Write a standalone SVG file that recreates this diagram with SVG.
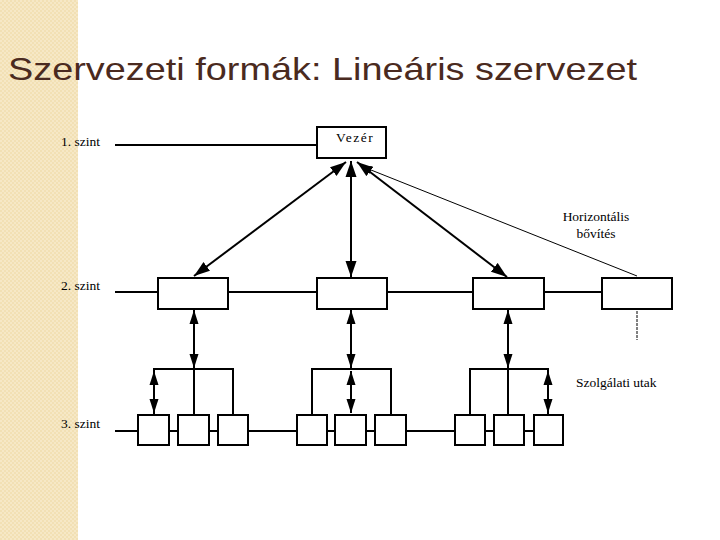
<svg xmlns="http://www.w3.org/2000/svg" width="720" height="540" viewBox="0 0 720 540">
<defs>
<pattern id="chk" width="4" height="4" patternUnits="userSpaceOnUse">
<rect width="4" height="4" fill="#f2e0b4"/>
<rect width="2" height="2" fill="#f6e8c6"/>
<rect x="2" y="2" width="2" height="2" fill="#f6e8c6"/>
</pattern>
<marker id="ah" markerUnits="userSpaceOnUse" markerWidth="17" markerHeight="12" refX="16" refY="5.5" orient="auto-start-reverse" viewBox="0 0 17 11">
<path d="M0,0 L16,5.5 L0,11 z" fill="#000"/>
</marker>
<marker id="av" markerUnits="userSpaceOnUse" markerWidth="15" markerHeight="10" refX="14" refY="4.5" orient="auto-start-reverse" viewBox="0 0 15 9">
<path d="M0,0 L14,4.5 L0,9 z" fill="#000"/>
</marker>
<marker id="at" markerUnits="userSpaceOnUse" markerWidth="12" markerHeight="10" refX="11" refY="4" orient="auto-start-reverse" viewBox="0 0 12 8">
<path d="M0,0 L11,4 L0,8 z" fill="#000"/>
</marker>
</defs>
<style>
.box{fill:#fff;stroke:#000;stroke-width:2}
.ln{stroke:#000;stroke-width:2;fill:none}
.thin{stroke:#000;stroke-width:1;fill:none}
.lbl{font-size:13.5px;fill:#000}
.title{font-size:32px;fill:#4a2a20}
</style>
<rect x="0" y="0" width="720" height="540" fill="#fff"/>
<rect x="0" y="0" width="78" height="540" fill="url(#chk)"/>
<text class="title" font-family="Liberation Sans, Arial, sans-serif" x="8" y="80" textLength="629" lengthAdjust="spacingAndGlyphs">Szervezeti formák: Lineáris szervezet</text>

<g id="levels" font-family="Liberation Serif, Times New Roman, serif">
<text class="lbl" x="61" y="146">1. szint</text>
<text class="lbl" x="61" y="290">2. szint</text>
<text class="lbl" x="61" y="428">3. szint</text>
</g>

<g id="connectors">
<line class="ln" x1="115" y1="145" x2="317" y2="145"/>
<line class="ln" x1="115" y1="292" x2="602" y2="292"/>
<line class="ln" x1="115" y1="431" x2="534" y2="431"/>
<line class="ln" x1="346" y1="162" x2="194" y2="276" marker-start="url(#ah)" marker-end="url(#ah)"/>
<line class="ln" x1="351" y1="161" x2="351" y2="277" marker-start="url(#ah)" marker-end="url(#ah)"/>
<line class="ln" x1="357" y1="162" x2="507" y2="277" marker-start="url(#ah)" marker-end="url(#ah)"/>
<line class="thin" x1="637" y1="276" x2="361" y2="166" marker-end="url(#at)"/>
<line class="thin" x1="637" y1="311" x2="637" y2="340" stroke-dasharray="3,1"/>
<line class="ln" x1="194" y1="310" x2="194" y2="368" marker-start="url(#av)" marker-end="url(#av)"/>
<line class="ln" x1="351" y1="310" x2="351" y2="368" marker-start="url(#av)" marker-end="url(#av)"/>
<line class="ln" x1="508" y1="310" x2="508" y2="368" marker-start="url(#av)" marker-end="url(#av)"/>
<path class="ln" d="M154,415 V369 H233 V415 M194,369 V415"/>
<path class="ln" d="M312,415 V369 H391 V415"/>
<path class="ln" d="M470,415 V369 H548 V415 M508,369 V415"/>
<line class="ln" x1="154" y1="371" x2="154" y2="413" marker-start="url(#av)" marker-end="url(#av)"/>
<line class="ln" x1="351" y1="371" x2="351" y2="413" marker-start="url(#av)" marker-end="url(#av)"/>
<line class="ln" x1="548" y1="371" x2="548" y2="413" marker-start="url(#av)" marker-end="url(#av)"/>
</g>

<g id="vezer">
<rect class="box" x="317" y="127" width="69" height="31"/>
<text class="lbl" font-family="Liberation Serif, Times New Roman, serif" x="336" y="142" letter-spacing="1.5">Vezér</text>
</g>

<g id="l2-1"><rect class="box" x="158" y="278" width="70" height="31"/></g>
<g id="l2-2"><rect class="box" x="317" y="278" width="70" height="31"/></g>
<g id="l2-3"><rect class="box" x="473" y="278" width="71" height="31"/></g>
<g id="l2-4"><rect class="box" x="602" y="278" width="70" height="31"/></g>

<g id="l3-1"><rect class="box" x="138" y="415" width="31" height="30"/></g>
<g id="l3-2"><rect class="box" x="178" y="415" width="31" height="30"/></g>
<g id="l3-3"><rect class="box" x="218" y="415" width="30" height="30"/></g>
<g id="l3-4"><rect class="box" x="297" y="415" width="30" height="30"/></g>
<g id="l3-5"><rect class="box" x="335" y="415" width="31" height="30"/></g>
<g id="l3-6"><rect class="box" x="375" y="415" width="31" height="30"/></g>
<g id="l3-7"><rect class="box" x="455" y="415" width="30" height="30"/></g>
<g id="l3-8"><rect class="box" x="494" y="415" width="30" height="30"/></g>
<g id="l3-9"><rect class="box" x="534" y="415" width="29" height="30"/></g>

<g id="labels" font-family="Liberation Serif, Times New Roman, serif">
<text class="lbl" x="596" y="221" text-anchor="middle">Horizontális</text>
<text class="lbl" x="596" y="238" text-anchor="middle">bővítés</text>
<text class="lbl" x="576" y="387">Szolgálati utak</text>
</g>
</svg>
